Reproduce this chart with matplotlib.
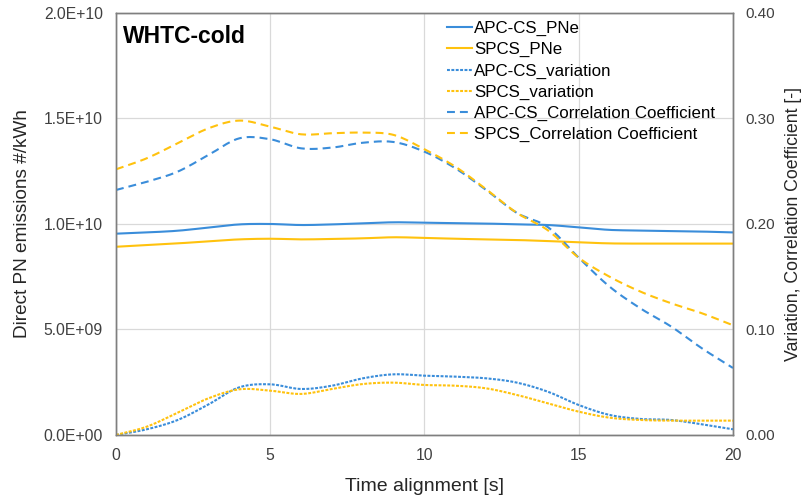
import numpy as np
import matplotlib
matplotlib.use("Agg")
from matplotlib import pyplot as plt
from matplotlib.ticker import FuncFormatter, MultipleLocator

plt.rcParams['font.family'] = ['Liberation Sans', 'DejaVu Sans']

# time alignment [s]
t = [0, 1, 2, 3, 4, 5, 6, 7, 8, 9, 10, 11, 12, 13, 14, 15, 16, 17, 18, 19, 20]

# direct PN emissions #/kWh (left axis)
apc_pne = [9.54e9, 9.60e9, 9.68e9, 9.83e9, 9.98e9, 10.0e9, 9.95e9, 9.98e9, 10.03e9, 10.08e9,
           10.06e9, 10.04e9, 10.02e9, 9.98e9, 9.95e9, 9.84e9, 9.72e9, 9.69e9, 9.67e9, 9.64e9, 9.60e9]
spcs_pne = [8.92e9, 9.00e9, 9.08e9, 9.18e9, 9.27e9, 9.30e9, 9.27e9, 9.29e9, 9.32e9, 9.37e9,
            9.34e9, 9.30e9, 9.27e9, 9.24e9, 9.19e9, 9.13e9, 9.08e9, 9.07e9, 9.07e9, 9.07e9, 9.07e9]

# variation [-] (right axis)
apc_var = [0.0, 0.0054, 0.0142, 0.029, 0.0452, 0.048, 0.0436, 0.0467, 0.0537, 0.0575,
           0.0562, 0.0553, 0.0537, 0.0496, 0.041, 0.0284, 0.019, 0.0152, 0.0142, 0.0101, 0.0054]
spcs_var = [0.0, 0.0079, 0.0211, 0.0348, 0.0433, 0.042, 0.0389, 0.0436, 0.0483, 0.0496,
            0.0474, 0.0467, 0.0442, 0.0379, 0.030, 0.0221, 0.0164, 0.0142, 0.0136, 0.0136, 0.0136]

# correlation coefficient [-] (right axis)
apc_cc = [0.2322, 0.240, 0.2496, 0.2654, 0.2812, 0.2803, 0.2717, 0.2724, 0.277, 0.2777,
          0.2685, 0.2528, 0.2322, 0.2104, 0.197, 0.168, 0.1406, 0.120, 0.1027, 0.082, 0.0635]
spcs_cc = [0.2518, 0.2623, 0.2765, 0.2907, 0.298, 0.2922, 0.285, 0.286, 0.2866, 0.2844,
           0.2708, 0.2543, 0.2329, 0.2104, 0.194, 0.168, 0.150, 0.1359, 0.1248, 0.1153, 0.104]

BLUE = '#3A8DDA'
YELLOW = '#FFC20E'


def smooth(x, y, n=12):
    # Catmull-Rom style smoothing, like Excel's "smoothed line"
    x = np.asarray(x, float)
    y = np.asarray(y, float)
    px = np.concatenate([[2 * x[0] - x[1]], x, [2 * x[-1] - x[-2]]])
    py = np.concatenate([[2 * y[0] - y[1]], y, [2 * y[-1] - y[-2]]])
    xs, ys = [], []
    s = np.linspace(0, 1, n, endpoint=False)
    for i in range(1, len(px) - 2):
        p0, p1, p2, p3 = py[i - 1], py[i], py[i + 1], py[i + 2]
        ys.append(0.5 * (2 * p1 + (-p0 + p2) * s + (2 * p0 - 5 * p1 + 4 * p2 - p3) * s**2
                         + (-p0 + 3 * p1 - 3 * p2 + p3) * s**3))
        xs.append(px[i] + (px[i + 1] - px[i]) * s)
    xs.append([x[-1]])
    ys.append([y[-1]])
    return np.concatenate(xs), np.concatenate(ys)


def main():
    fig = plt.figure(figsize=(8.06, 4.99), dpi=100)
    ax = fig.add_axes([0.1439, 0.1283, 0.7655, 0.8457])
    ax2 = ax.twinx()

    lw = 1.5
    dashed = (0, (3.8, 2.4))
    dotted = (0, (1.4, 0.7))

    h1, = ax.plot(*smooth(t, apc_pne), color=BLUE, lw=lw, label='APC-CS_PNe')
    h2, = ax.plot(*smooth(t, spcs_pne), color=YELLOW, lw=lw, label='SPCS_PNe')
    h3, = ax2.plot(*smooth(t, apc_var), color=BLUE, lw=lw, ls=dotted, label='APC-CS_variation')
    h4, = ax2.plot(*smooth(t, spcs_var), color=YELLOW, lw=lw, ls=dotted, label='SPCS_variation')
    h5, = ax2.plot(*smooth(t, apc_cc), color=BLUE, lw=lw, ls=dashed,
                   label='APC-CS_Correlation Coefficient')
    h6, = ax2.plot(*smooth(t, spcs_cc), color=YELLOW, lw=lw, ls=dashed,
                   label='SPCS_Correlation Coefficient')

    ax.set_xlim(0, 20)
    ax.set_ylim(0, 2.0e10)
    ax2.set_ylim(0, 0.4)
    ax.xaxis.set_major_locator(MultipleLocator(5))
    ax.yaxis.set_major_locator(MultipleLocator(5e9))
    ax2.yaxis.set_major_locator(MultipleLocator(0.1))
    ax.yaxis.set_major_formatter(FuncFormatter(lambda v, p: f"{v:.1E}"))
    ax2.yaxis.set_major_formatter(FuncFormatter(lambda v, p: f"{v:.2f}"))

    ax.grid(True, color='#D9D9D9', lw=0.9)
    ax.set_axisbelow(True)
    for a in (ax, ax2):
        a.tick_params(length=0, labelsize=11.3, colors='#404040', pad=9.5)
        for sp in a.spines.values():
            sp.set_color('#7F7F7F')
            sp.set_linewidth(1.0)
    ax2.tick_params(labelsize=11, pad=9)

    ax.set_xlabel('Time alignment [s]', fontsize=14, color='#262626', labelpad=11)
    ax.set_ylabel('Direct PN emissions #/kWh', fontsize=13.7, color='#262626', labelpad=9)
    ax2.set_ylabel('Variation, Correlation Coefficient [-]', fontsize=12.8,
                   color='#262626', labelpad=7)

    ax.text(0.011, 0.972, 'WHTC-cold', transform=ax.transAxes, fontsize=16.5,
            fontweight='bold', va='top', ha='left', color='#000000')

    ax2.legend(handles=[h1, h2, h3, h4, h5, h6], loc='upper left',
               bbox_to_anchor=(0.52, 1.005), frameon=False, fontsize=12.2,
               handlelength=1.5, handletextpad=0.1, labelspacing=0.36,
               borderaxespad=0.2)

    plt.savefig("out.png", dpi=100)


if __name__ == '__main__':
    main()
